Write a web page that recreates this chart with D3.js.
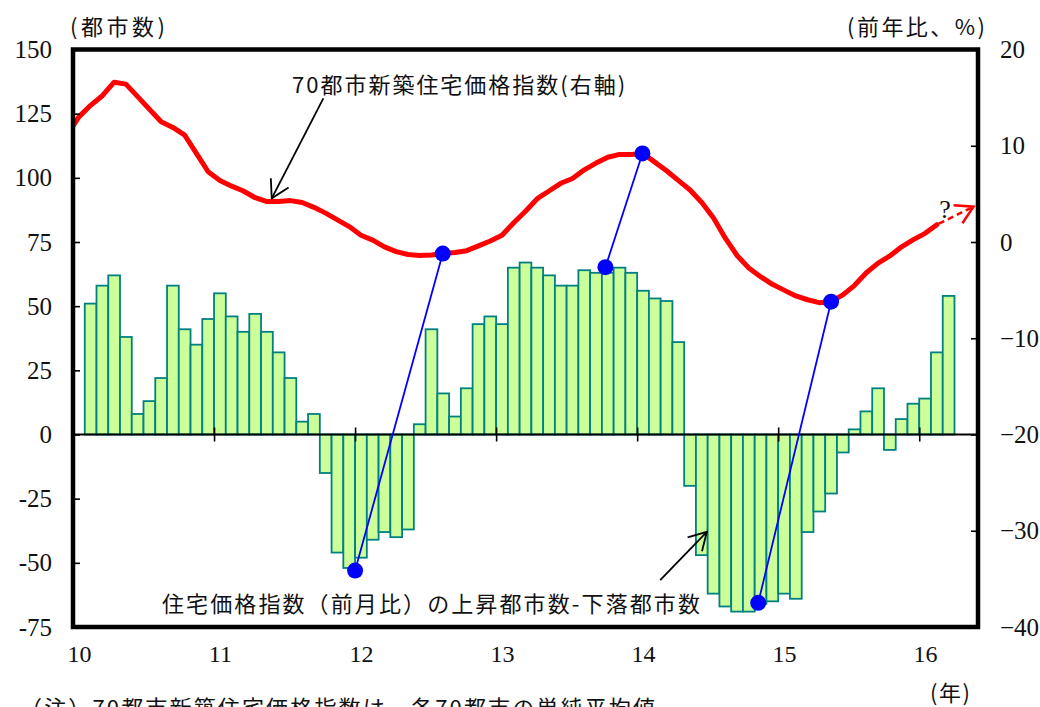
<!DOCTYPE html>
<html><head><meta charset="utf-8">
<script src="https://cdn.jsdelivr.net/npm/d3@7"></script>
<style>
html,body{margin:0;padding:0;background:#fff;}
svg{display:block;}
</style></head>
<body>
<svg id="c" width="1040" height="707"></svg>
<script>
// ---- data ----
// month index: 0 = Jan 2010
const yearLabels = ["10","11","12","13","14","15","16"];
const barStartMonth = 1; // Feb 2010
// 住宅価格指数（前月比）の上昇都市数-下落都市数 (Feb 2010 - Mar 2016)
const barValues = [
  51,58,62,38,8,13,22,58,41,35,45,
  55,46,40,47,40,32,22,5,8,-15,-46,-52,
  -48,-41,-38,-40,-37,4,41,16,7,18,43,46,
  43,65,67,65,62,58,58,64,63,63,65,63,
  56,53,52,36,-20,-47,-62,-67,-69,-69,-66,-65,
  -62,-64,-38,-30,-23,-7,2,9,18,-6,6,12,
  14,32,54
];
const lineStartMonth = -1; // Dec 2009
// 70都市新築住宅価格指数 前年比 % (right axis)
const lineValues = [
  11.1,
  13.0,14.2,15.2,16.6,16.4,15.1,13.8,12.5,11.9,11.1,9.2,7.3,
  6.4,5.8,5.3,4.6,4.2,4.2,4.3,4.1,3.6,3.0,2.3,1.6,
  0.7,0.2,-0.5,-1.0,-1.3,-1.4,-1.35,-1.2,-1.1,-0.9,-0.4,0.1,
  0.7,2.0,3.2,4.5,5.3,6.1,6.6,7.5,8.2,8.8,9.1,9.1,
  9.2,8.3,7.4,6.4,5.4,4.1,2.5,0.4,-1.4,-2.7,-3.6,-4.4,
  -5.0,-5.6,-6.0,-6.3,-6.2,-5.5,-4.5,-3.2,-2.2,-1.45,-0.5,0.25,
  0.9,1.8
];
// forecast arrow end (month position, right-axis value)
const forecastEnd = [76.62, 3.67];
// blue connectors: [bar month pos, left value] -> [line month pos, right value]
const connectors = [
  [[24.0,-53],[31.46,-1.2]],
  [[45.3,65.2],[48.45,9.2]],
  [[58.3,-65.6],[64.5,-6.2]]
];
const leftTicks = [-75,-50,-25,0,25,50,75,100,125,150];
const rightTicks = [-40,-30,-20,-10,0,10,20];

const NUMFONT = "Liberation Serif, DejaVu Serif, serif";
const JPFONT = "Noto Sans CJK JP, Noto Sans CJK SC, sans-serif";
function num(sel,size){ return sel.attr("font-family",NUMFONT).attr("font-size",size||24).attr("fill","#111"); }
function jp(sel){ return sel.attr("font-family",JPFONT).attr("font-size",22).attr("fill","#111"); }

// ---- scales ----
const L=73,R=978,T=49.5,B=627;
const x = d3.scaleLinear().domain([0,77]).range([L,R]);
const yL = d3.scaleLinear().domain([-75,150]).range([B,T]);
const yR = d3.scaleLinear().domain([-40,20]).range([B,T]);
const svg = d3.select("#c");

svg.append("defs").append("clipPath").attr("id","clip")
  .append("rect").attr("x",L).attr("y",T).attr("width",R-L).attr("height",B-T);

// bars
const bw = x(1)-x(0);
svg.append("g").selectAll("rect").data(barValues).join("rect")
  .attr("x",(d,i)=>x(barStartMonth+i))
  .attr("width",bw)
  .attr("y",d=>yL(Math.max(0,d)))
  .attr("height",d=>Math.abs(yL(d)-yL(0)))
  .attr("fill","#ccff99").attr("stroke","#008080").attr("stroke-width",1.8);

// zero axis with year ticks
const xAxis = d3.axisBottom(x).tickValues([12,24,36,48,60,72]).tickSize(7).tickFormat("");
const gz = svg.append("g").attr("transform",`translate(0,${yL(0)})`).call(xAxis);
gz.select(".domain").remove();
gz.selectAll(".tick line").attr("y1",-7).attr("stroke","#000").attr("stroke-width",1.6);
svg.append("line").attr("x1",L).attr("x2",R).attr("y1",yL(0)).attr("y2",yL(0))
  .attr("stroke","#000").attr("stroke-width",2);

// red line
const line = d3.line().x((d,i)=>x(lineStartMonth+i+0.5)).y(d=>yR(d));
svg.append("path").datum(lineValues).attr("d",line).attr("clip-path","url(#clip)")
  .attr("fill","none").attr("stroke","#ff0000").attr("stroke-width",5)
  .attr("stroke-linejoin","round").attr("stroke-linecap","round");

// arrow helper
function arrow(g,x1,y1,x2,y2,len,color,width,dash){
  g.append("line").attr("x1",x1).attr("y1",y1).attr("x2",x2).attr("y2",y2)
    .attr("stroke",color).attr("stroke-width",width).attr("stroke-dasharray",dash||null);
  const a = Math.atan2(y1-y2,x1-x2);
  const sp = Math.PI/6;
  const p = [[x2+len*Math.cos(a+sp),y2+len*Math.sin(a+sp)],[x2,y2],[x2+len*Math.cos(a-sp),y2+len*Math.sin(a-sp)]];
  g.append("path").attr("d",d3.line()(p)).attr("fill","none").attr("stroke",color).attr("stroke-width",width);
}
// forecast dashed arrow
const lastM = lineStartMonth+lineValues.length-1+0.5;
const ga = svg.append("g");
arrow(ga,x(lastM)+2,yR(lineValues[lineValues.length-1])-1,x(forecastEnd[0]),yR(forecastEnd[1]),20,"#ff0000",2.5,"6,4");
num(svg.append("text").attr("x",x(74.2)).attr("y",yR(2.5))
  .attr("text-anchor","middle").text("?"),26);

// connectors
const gc = svg.append("g");
connectors.forEach(([a,b])=>{
  gc.append("line").attr("x1",x(a[0])).attr("y1",yL(a[1])).attr("x2",x(b[0])).attr("y2",yR(b[1]))
    .attr("stroke","#0000ff").attr("stroke-width",1.8);
  gc.append("circle").attr("cx",x(a[0])).attr("cy",yL(a[1])).attr("r",8).attr("fill","#0000ff");
  gc.append("circle").attr("cx",x(b[0])).attr("cy",yR(b[1])).attr("r",8).attr("fill","#0000ff");
});

// frame
svg.append("rect").attr("x",L).attr("y",T).attr("width",R-L).attr("height",B-T)
  .attr("fill","none").attr("stroke","#000").attr("stroke-width",4.5);

// left axis
const ga1 = svg.append("g").attr("transform",`translate(${L},0)`)
  .call(d3.axisLeft(yL).tickValues(leftTicks).tickSize(-7).tickPadding(21).tickFormat(d=>String(d)));
ga1.select(".domain").remove();
ga1.selectAll(".tick line").attr("stroke","#000").attr("stroke-width",1.6);
num(ga1,25); ga1.selectAll("text").attr("fill","#111");
// right axis
const ga2 = svg.append("g").attr("transform",`translate(${R},0)`)
  .call(d3.axisRight(yR).tickValues(rightTicks).tickSize(-7).tickPadding(22));
ga2.select(".domain").remove();
ga2.selectAll(".tick line").attr("stroke","#000").attr("stroke-width",1.6);
num(ga2,25); ga2.selectAll("text").attr("fill","#111");
// bottom year labels (centered on January)
const ga3 = svg.append("g").attr("transform",`translate(0,${B})`)
  .call(d3.axisBottom(x).tickValues(yearLabels.map((d,i)=>i*12+0.5)).tickSize(0).tickPadding(18)
    .tickFormat((d,i)=>yearLabels[i]));
ga3.select(".domain").remove();
num(ga3,24); ga3.selectAll("text").attr("fill","#111");

// titles
jp(svg.append("text").attr("x",70).attr("y",35).attr("textLength",95).attr("lengthAdjust","spacing").text("(都市数)"));
jp(svg.append("text").attr("x",847).attr("y",35).attr("textLength",138).attr("lengthAdjust","spacing").text("(前年比、%)"));
jp(svg.append("text").attr("x",930).attr("y",701).attr("textLength",40).attr("lengthAdjust","spacing").text("(年)"));
jp(svg.append("text").attr("x",20).attr("y",716).attr("textLength",635).attr("lengthAdjust","spacing")
  .text("（注）70都市新築住宅価格指数は、各70都市の単純平均値"));

// annotations
jp(svg.append("text").attr("x",x(18.64)).attr("y",yR(15.5))
  .attr("textLength",333).attr("lengthAdjust","spacing").text("70都市新築住宅価格指数(右軸)"));
arrow(svg.append("g"),x(21.3),yR(14.93),x(16.91),yR(4.54),20,"#000",1.8);
jp(svg.append("text").attr("x",x(7.57)).attr("y",yL(-69.2))
  .attr("textLength",538).attr("lengthAdjust","spacing").text("住宅価格指数（前月比）の上昇都市数-下落都市数"));
arrow(svg.append("g"),x(49.96),yL(-56.7),x(53.93),yL(-37.9),20,"#000",1.8);
</script>
</body></html>
